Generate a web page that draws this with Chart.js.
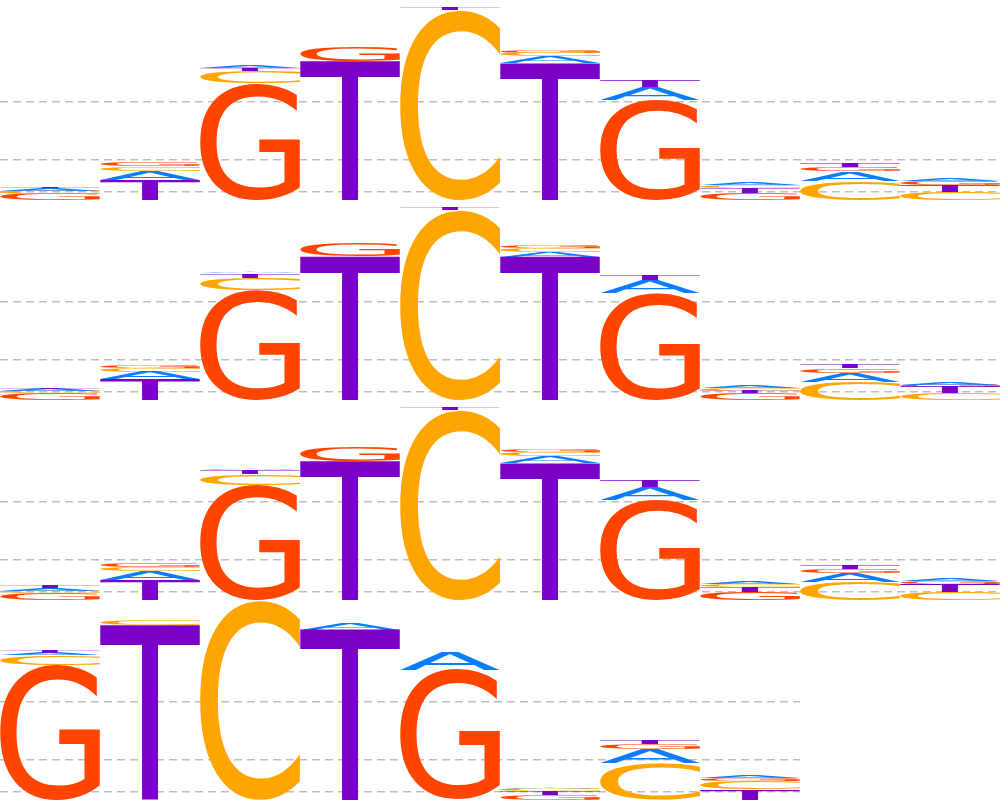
<!DOCTYPE html>
<html>
<head>
<meta charset="utf-8">
<script src="https://cdn.jsdelivr.net/npm/chart.js@4.4.0/dist/chart.umd.js"></script>
<style>
    html, body { margin: 0; padding: 0; background: #fff; }
    #wrap { position: relative; width: 1000px; height: 800px; overflow: hidden; }
    .row { position: absolute; left: 0; height: 200px; }
</style>
</head>
<body>
<div id="wrap">
    <div class="row" style="top:0;width:1000px;"><canvas id="logo1"></canvas></div>
    <div class="row" style="top:200px;width:1000px;"><canvas id="logo2"></canvas></div>
    <div class="row" style="top:400px;width:1000px;"><canvas id="logo3"></canvas></div>
    <div class="row" style="top:600px;width:800px;"><canvas id="logo4"></canvas></div>
</div>
<script>
// letter heights (bits) per position, one set per row
const letters = ['G', 'C', 'A', 'T'];
const letterColors = { G: '#ff4500', C: '#ffa500', A: '#0a7cff', T: '#7b00c8' };
const gridTicks = [0.083, 0.4, 0.983];

const row1G = [0.06, 0.04, 1.17, 0.15, 0, 0.03, 1.0, 0.07, 0.042, 0.035];
const row1C = [0.032, 0.042, 0.12, 0, 1.9, 0.035, 0, 0.028, 0.19, 0.085];
const row1A = [0.03, 0.093, 0.02, 0, 0, 0.065, 0.13, 0.025, 0.095, 0.02];
const row1T = [0.015, 0.2, 0.03, 1.39, 0.03, 1.37, 0.07, 0.05, 0.032, 0.065];

const row2G = [0.065, 0.03, 1.10, 0.135, 0, 0.026, 1.07, 0.067, 0.043, 0.027];
const row2C = [0.025, 0.035, 0.125, 0, 1.9, 0.034, 0, 0.024, 0.183, 0.067];
const row2A = [0.023, 0.076, 0.017, 0, 0, 0.056, 0.13, 0.023, 0.09, 0.02];
const row2T = [0.015, 0.207, 0.04, 1.433, 0.027, 1.427, 0.055, 0.027, 0.034, 0.06];

const row3G = [0.067, 0.037, 1.15, 0.147, 0, 0.027, 1.0, 0.083, 0.045, 0.03];
const row3C = [0.027, 0.04, 0.11, 0, 1.9, 0.033, 0, 0.027, 0.183, 0.085];
const row3A = [0.026, 0.09, 0.017, 0, 0, 0.07, 0.133, 0.018, 0.085, 0.02];
const row3T = [0.02, 0.2, 0.043, 1.39, 0.027, 1.373, 0.067, 0.045, 0.04, 0.075];

const row4G = [1.35, 0, 0, 0, 1.30, 0.05, 0.053, 0.03];
const row4C = [0.1, 0.05, 1.995, 0, 0, 0.02, 0.367, 0.083];
const row4A = [0.025, 0, 0, 0.067, 0.183, 0.015, 0.14, 0.025];
const row4T = [0.022, 1.75, 0, 1.70, 0, 0.04, 0.033, 0.107];

const rows = [
    { id: 'logo1', G: row1G, C: row1C, A: row1A, T: row1T },
    { id: 'logo2', G: row2G, C: row2C, A: row2A, T: row2T },
    { id: 'logo3', G: row3G, C: row3C, A: row3A, T: row3T },
    { id: 'logo4', G: row4G, C: row4C, A: row4A, T: row4T },
];

// biggest letter at the bottom, smaller ones stacked on top
function stackRow(row) {
    const n = row.G.length;
    const out = {};
    letters.forEach((l) => { out[l] = new Array(n).fill(null); });
    for (let i = 0; i < n; i++) {
        const order = letters.slice().sort((a, b) => row[b][i] - row[a][i]);
        let base = 0;
        order.forEach((l) => {
            const h = row[l][i];
            if (h > 0) out[l][i] = [base, base + h];
            base += h;
        });
    }
    return out;
}

const glyphCache = {};
function glyphBox(ctx, ch) {
    if (glyphCache[ch]) return glyphCache[ch];
    ctx.save();
    ctx.font = '200px "DejaVu Sans"';
    const m = ctx.measureText(ch);
    ctx.restore();
    return (glyphCache[ch] = { left: m.actualBoundingBoxLeft, asc: m.actualBoundingBoxAscent,
        w: m.actualBoundingBoxLeft + m.actualBoundingBoxRight, h: m.actualBoundingBoxAscent + m.actualBoundingBoxDescent });
}

const glyphPlugin = {
    id: 'glyphs',
    afterDatasetsDraw(chart) {
        const ctx = chart.ctx;
        chart.data.datasets.forEach((ds, di) => {
            const meta = chart.getDatasetMeta(di);
            meta.data.forEach((bar, i) => {
                if (!ds.data[i]) return;
                const top = Math.min(bar.y, bar.base), bottom = Math.max(bar.y, bar.base);
                const h = bottom - top;
                if (h <= 0) return;
                const left = bar.x - bar.width / 2;
                const g = glyphBox(ctx, ds.label);
                ctx.save();
                ctx.translate(left, top);
                ctx.scale(bar.width / g.w, h / g.h);
                ctx.font = '200px "DejaVu Sans"';
                ctx.textAlign = 'left';
                ctx.textBaseline = 'alphabetic';
                ctx.fillStyle = letterColors[ds.label];
                ctx.fillText(ds.label, g.left, g.asc);
                ctx.restore();
            });
        });
    },
};

rows.forEach((row) => {
    const stacked = stackRow(row);
    const labels = row.G.map((_, i) => String(i + 1));
    new Chart(document.getElementById(row.id), {
        type: 'bar',
        data: {
            labels,
            datasets: letters.map((l) => ({ label: l, data: stacked[l], backgroundColor: 'rgba(0,0,0,0)', grouped: false })),
        },
        options: {
            responsive: true, maintainAspectRatio: false, animation: false,
            layout: { padding: 0 },
            barPercentage: 1, categoryPercentage: 1,
            plugins: { legend: { display: false }, tooltip: { enabled: false } },
            scales: {
                x: { display: false, offset: true },
                y: {
                    min: 0, max: 2,
                    afterBuildTicks: (s) => { s.ticks = gridTicks.map((v) => ({ value: v })); },
                    ticks: { display: false },
                    grid: { drawTicks: false, color: '#bfbfbf', lineWidth: 1.6 },
                    border: { display: false, dash: [8, 5] },
                },
            },
        },
        plugins: [glyphPlugin],
    });
});
</script>
</body>
</html>
